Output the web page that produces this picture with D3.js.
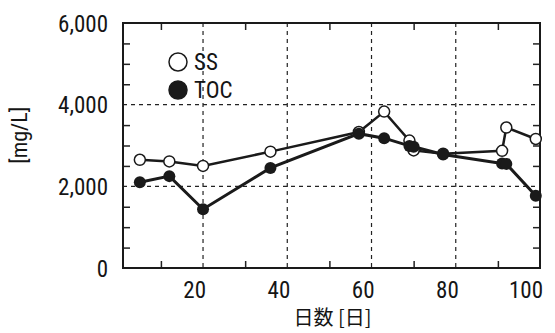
<!DOCTYPE html>
<html>
<head>
<meta charset="utf-8">
<script src="https://cdn.jsdelivr.net/npm/d3@7"></script>
<style>
  body { margin: 0; background: #fff; }
  text { font-family: "Liberation Sans Narrow", "Roboto Condensed", "Liberation Sans", sans-serif; fill: #151515; }
</style>
</head>
<body>
<svg id="chart" width="555" height="333"></svg>
<script>
// days and values
const ssDays = [5, 12, 20, 36, 57, 63, 69, 70, 77, 91, 92, 99];
const ssValues = [2650, 2610, 2500, 2850, 3330, 3830, 3120, 2880, 2800, 2870, 3440, 3160];
const tocDays = [5, 12, 20, 36, 57, 63, 69, 70, 77, 91, 92, 99];
const tocValues = [2100, 2250, 1440, 2450, 3290, 3180, 2990, 2970, 2780, 2560, 2550, 1770];
const xTicks = [20, 40, 60, 80, 100];
const yTicks = [0, 2000, 4000, 6000];
const legendLabels = ["SS", "TOC"];

const margin = { top: 23, right: 15, bottom: 65, left: 123 };
const width = 555 - margin.left - margin.right;
const height = 333 - margin.top - margin.bottom;

const svg = d3.select("#chart")
  .append("g")
  .attr("transform", `translate(${margin.left},${margin.top})`);

const x = d3.scaleLinear().domain([1, 100]).range([0, width]);
const y = d3.scaleLinear().domain([0, 6000]).range([height, 0]);

// dashed grid at major ticks
svg.selectAll(".gx")
  .data(xTicks.filter(d => d < 100))
  .enter().append("line")
  .attr("x1", d => x(d)).attr("x2", d => x(d))
  .attr("y1", 0).attr("y2", height)
  .attr("stroke", "#222").attr("stroke-width", 1.2)
  .attr("stroke-dasharray", "4,4");

svg.selectAll(".gy")
  .data(yTicks.filter(d => d > 0 && d < 6000))
  .enter().append("line")
  .attr("x1", 0).attr("x2", width)
  .attr("y1", d => y(d)).attr("y2", d => y(d))
  .attr("stroke", "#222").attr("stroke-width", 1.2)
  .attr("stroke-dasharray", "4,4");

// minor ticks, pointing in
const minorX = d3.range(10, 100, 20);
const minorY = d3.range(500, 6000, 500).filter(d => d % 2000 !== 0);

svg.append("g").attr("transform", `translate(0,${height})`)
  .call(d3.axisBottom(x).tickValues(minorX).tickSize(-7).tickFormat(""))
  .call(g => g.select(".domain").remove());
svg.append("g")
  .call(d3.axisTop(x).tickValues(minorX).tickSize(-7).tickFormat(""))
  .call(g => g.select(".domain").remove());
svg.append("g")
  .call(d3.axisLeft(y).tickValues(minorY).tickSize(-7).tickFormat(""))
  .call(g => g.select(".domain").remove());
svg.append("g").attr("transform", `translate(${width},0)`)
  .call(d3.axisRight(y).tickValues(minorY).tickSize(-7).tickFormat(""))
  .call(g => g.select(".domain").remove());
svg.selectAll(".tick line").attr("stroke", "#222").attr("stroke-width", 1.5);

// frame
svg.append("rect")
  .attr("width", width).attr("height", height)
  .attr("fill", "none").attr("stroke", "#1a1a1a").attr("stroke-width", 2);

// tick labels
svg.selectAll(".xl")
  .data(xTicks)
  .enter().append("text")
  .attr("x", d => x(d) + 3)
  .attr("y", height + 30)
  .attr("text-anchor", "end")
  .style("font-size", "23px")
  .text(d => d);

const fmt = d3.format(",");
svg.selectAll(".yl")
  .data(yTicks)
  .enter().append("text")
  .attr("x", -15)
  .attr("y", d => y(d) + 8.5)
  .attr("text-anchor", "end")
  .style("font-size", "23px")
  .text(d => fmt(d));

// axis titles
svg.append("text")
  .attr("x", x(60) - 39)
  .attr("y", height + 57)
  .attr("text-anchor", "middle")
  .style("font-family", "'Noto Sans CJK JP', sans-serif")
  .style("font-size", "20px")
  .attr("xml:space", "preserve")
  .text("日数 [日]");

svg.append("text")
  .attr("transform", `translate(${-96},${y(3250)}) rotate(-90)`)
  .attr("text-anchor", "middle")
  .style("font-size", "22px")
  .text("[mg/L]");

// series
const line = d3.line().x(d => x(d[0])).y(d => y(d[1]));
const ss = ssDays.map((d, i) => [d, ssValues[i]]);
const toc = tocDays.map((d, i) => [d, tocValues[i]]);

svg.append("path").datum(toc)
  .attr("d", line).attr("fill", "none")
  .attr("stroke", "#1a1a1a").attr("stroke-width", 3);
svg.append("path").datum(ss)
  .attr("d", line).attr("fill", "none")
  .attr("stroke", "#1a1a1a").attr("stroke-width", 2.5);

svg.selectAll(".ss")
  .data(ss)
  .enter().append("circle")
  .attr("cx", d => x(d[0])).attr("cy", d => y(d[1]))
  .attr("r", 5.5)
  .attr("fill", "#fff").attr("stroke", "#1a1a1a").attr("stroke-width", 1.5);

svg.selectAll(".toc")
  .data(toc)
  .enter().append("circle")
  .attr("cx", d => x(d[0])).attr("cy", d => y(d[1]))
  .attr("r", 6)
  .attr("fill", "#1a1a1a");

// legend
const legend = svg.append("g").attr("transform", `translate(55,39)`);
legendLabels.forEach((name, i) => {
  const g = legend.append("g").attr("transform", `translate(0,${i * 28})`);
  g.append("circle")
    .attr("r", 9)
    .attr("fill", i === 0 ? "#fff" : "#1a1a1a")
    .attr("stroke", "#1a1a1a").attr("stroke-width", 1.5);
  g.append("text")
    .attr("x", 16).attr("y", 8)
    .style("font-size", "23px")
    .text(name);
});
</script>
</body>
</html>
